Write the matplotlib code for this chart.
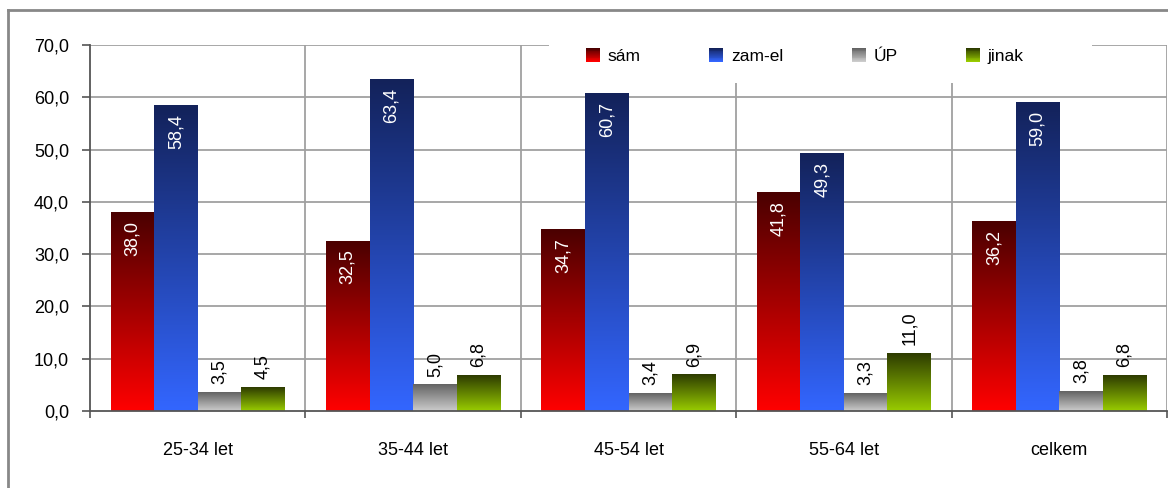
import numpy as np
import matplotlib
matplotlib.use('Agg')
import matplotlib.pyplot as plt
from matplotlib.colors import LinearSegmentedColormap, to_rgb
from matplotlib.patches import Rectangle
from matplotlib.lines import Line2D
from matplotlib.legend_handler import HandlerBase
from matplotlib.ticker import FixedLocator, NullFormatter, FixedFormatter

plt.rcParams['font.family'] = ['Liberation Sans', 'DejaVu Sans']

categories = ['25-34 let', '35-44 let', '45-54 let', '55-64 let', 'celkem']
series_names = ['sám', 'zam-el', 'ÚP', 'jinak']
sam = [38.0, 32.5, 34.7, 41.8, 36.2]
zamel = [58.4, 63.4, 60.7, 49.3, 59.0]
up = [3.5, 5.0, 3.4, 3.3, 3.8]
jinak = [4.5, 6.8, 6.9, 11.0, 6.8]
yticks = [0, 10, 20, 30, 40, 50, 60, 70]
ytick_labels = ['0,0', '10,0', '20,0', '30,0', '40,0', '50,0', '60,0', '70,0']

series = [sam, zamel, up, jinak]
top_colors = ['#4a0000', '#13225a', '#636363', '#2d3b00']
bottom_colors = ['#ff0000', '#3366ff', '#cccccc', '#99cc00']
label_inside = [True, True, False, False]

W, H = 1168, 488
fig = plt.figure(figsize=(W / 100, H / 100), dpi=100)
fig.patch.set_facecolor('white')
ax = fig.add_axes([90 / W, 1 - 411 / H, (1167 - 90) / W, (411 - 45) / H])

n_cat = len(categories)
n_ser = len(series)
x = np.arange(n_cat)
bw = 0.202
grad = np.linspace(0, 1, 256).reshape(-1, 1)

for k, vals in enumerate(series):
    cmap = LinearSegmentedColormap.from_list('g%d' % k, [bottom_colors[k], top_colors[k]])
    offs = x + (k - (n_ser - 1) / 2) * bw
    bars = ax.bar(offs, vals, width=bw, color='none', edgecolor='none', zorder=3)
    for b, v in zip(bars, vals):
        x0 = b.get_x()
        w = b.get_width()
        h = b.get_height()
        ax.imshow(grad, extent=[x0, x0 + w, 0, h], origin='lower', aspect='auto',
                  cmap=cmap, zorder=3, interpolation='bilinear')
        txt = f"{v:.1f}".replace('.', ',')
        if label_inside[k]:
            ax.annotate(txt, (x0 + w / 2, h), xytext=(0, -6), textcoords='offset points',
                        rotation=90, ha='center', va='top', color='white', fontsize=13, zorder=5)
        else:
            ax.annotate(txt, (x0 + w / 2, h), xytext=(0, 6), textcoords='offset points',
                        rotation=90, ha='center', va='bottom', color='black', fontsize=13, zorder=5)

ax.set_xlim(-0.5, n_cat - 0.5)
ax.set_ylim(0, 70)

# grid lines
for yv in yticks[1:]:
    ax.axhline(yv, color='#a0a0a0', lw=1.3, zorder=1)
for xv in np.arange(n_cat) + 0.5:
    ax.axvline(xv, color='#a0a0a0', lw=1.3, zorder=1)

for s in ['top', 'right']:
    ax.spines[s].set_visible(False)
ax.spines['left'].set_color('#555555')
ax.spines['bottom'].set_color('#555555')
ax.spines['left'].set_linewidth(1.3)
ax.spines['bottom'].set_linewidth(1.3)
ax.spines['left'].set_zorder(4)
ax.spines['bottom'].set_zorder(4)

ax.set_yticks(yticks)
ax.set_yticklabels(ytick_labels, fontsize=13)
ax.tick_params(axis='y', direction='out', length=6, width=1.2, color='#555555', pad=9)

ax.xaxis.set_major_locator(FixedLocator(np.arange(n_cat + 1) - 0.5))
ax.xaxis.set_major_formatter(NullFormatter())
ax.xaxis.set_minor_locator(FixedLocator(x))
ax.xaxis.set_minor_formatter(FixedFormatter(categories))
ax.tick_params(axis='x', which='major', direction='out', length=5, width=1.2, color='#555555')
ax.tick_params(axis='x', which='minor', length=0, pad=22, labelsize=13)


class GradHandler(HandlerBase):
    def __init__(self, top, bottom, n=16):
        super().__init__()
        self.top = np.array(to_rgb(top))
        self.bottom = np.array(to_rgb(bottom))
        self.n = n

    def create_artists(self, legend, orig_handle, xdescent, ydescent, width, height, fontsize, trans):
        arts = []
        for i in range(self.n):
            t = i / (self.n - 1)
            c = self.bottom * (1 - t) + self.top * t
            r = Rectangle((-xdescent, -ydescent + i * height / self.n), width,
                          height / self.n * 1.05, facecolor=c, edgecolor='none', transform=trans)
            arts.append(r)
        return arts


# white legend background box
fig.add_artist(Rectangle((549 / W, 1 - 83 / H), (1092 - 549) / W, (83 - 30) / H,
                         transform=fig.transFigure, facecolor='white', edgecolor='none', zorder=1))

handles = [Rectangle((0, 0), 1, 1) for _ in series_names]
hmap = {h: GradHandler(top_colors[i], bottom_colors[i]) for i, h in enumerate(handles)}
leg = fig.legend(handles, series_names, handler_map=hmap, ncol=4, frameon=False,
                 loc='center', bbox_to_anchor=(805 / W, 1 - 56 / H), fontsize=12.5,
                 handlelength=0.8, handleheight=0.85, handletextpad=0.45, columnspacing=3.95)
leg.set_zorder(2)

# outer frame
fig.add_artist(Line2D([8 / W, 8 / W], [0, 1 - 10 / H], transform=fig.transFigure,
                      color='#888888', lw=2))
fig.add_artist(Line2D([8 / W, 1], [1 - 10 / H, 1 - 10 / H], transform=fig.transFigure,
                      color='#888888', lw=2))

fig.savefig('out.png', dpi=100)
